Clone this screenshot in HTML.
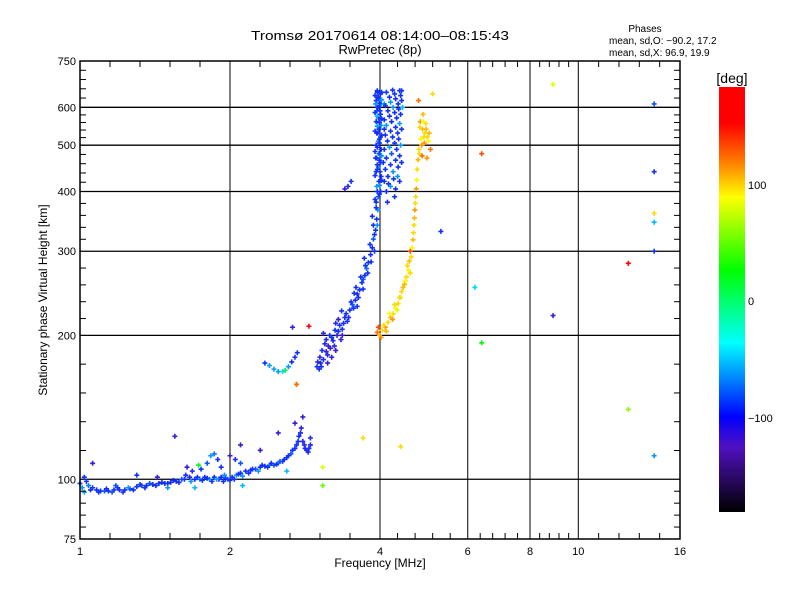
<!DOCTYPE html>
<html><head><meta charset="utf-8"><style>
body{margin:0;background:#fff;}
svg text{font-family:"Liberation Sans",sans-serif;fill:#000;}
</style></head><body>
<svg id="chart" width="800" height="600" xmlns="http://www.w3.org/2000/svg">
<defs>
<linearGradient id="cbar" x1="0" y1="0" x2="0" y2="1">
<stop offset="0" stop-color="#ff0000"/><stop offset="0.085" stop-color="#ff0000"/>
<stop offset="0.179" stop-color="#ff8000"/><stop offset="0.259" stop-color="#ffff00"/>
<stop offset="0.431" stop-color="#00ff00"/><stop offset="0.602" stop-color="#00ffff"/>
<stop offset="0.776" stop-color="#0000ff"/><stop offset="0.847" stop-color="#5010c0"/>
<stop offset="1" stop-color="#000000"/>
</linearGradient>
</defs>
<text x="380" y="40" font-size="13" text-anchor="middle" textLength="258" lengthAdjust="spacingAndGlyphs">Tromsø 20170614 08:14:00–08:15:43</text>
<text x="380" y="54" font-size="13" text-anchor="middle">RwPretec (8p)</text>
<text x="645" y="32" font-size="10" text-anchor="middle">Phases</text>
<text x="609" y="44" font-size="10">mean, sd,O: −90.2, 17.2</text>
<text x="609" y="56" font-size="10">mean, sd,X:  96.9, 19.9</text>
<g id="grid"></g>
<g id="marks"></g>
<rect x="80" y="61" width="600" height="478" fill="none" stroke="#000" stroke-width="1.5"/>
<g id="axes"></g>
<text x="380" y="567" font-size="12" text-anchor="middle">Frequency [MHz]</text>
<text transform="translate(47,300) rotate(-90)" font-size="12" text-anchor="middle">Stationary phase Virtual Height [km]</text>
<rect x="719" y="87" width="26" height="425" fill="url(#cbar)"/>
<text x="732" y="83" font-size="14" text-anchor="middle">[deg]</text>
<text x="748" y="189" font-size="11">100</text>
<text x="748" y="305" font-size="11">0</text>
<text x="748" y="422" font-size="11">−100</text>
</svg>
<script>
const xTicks = [1,2,4,6,8,10,16];
const yTicks = [75,100,200,300,400,500,600,750];
const xGrid = [2,4,6,8,10];
const yGrid = [100,200,300,400,500,600];
const traceE = [[1.00,98,-100],[1.01,96,-70],[1.02,94,-70],[1.03,99,-100],[1.04,97,-80],[1.06,96,-100],[1.08,95,-100],[1.10,94.5,-100],[1.12,94.5,-90],[1.14,94.5,-100],[1.17,95,-100],[1.20,95,-100],[1.23,95,-110],[1.26,95.5,-100],[1.30,96.5,-100],[1.33,97,-90],[1.36,97,-100],[1.40,97.5,-100],[1.44,98,-100],[1.48,98,-100],[1.52,98.5,-110],[1.56,99,-100],[1.60,100,-90],[1.63,102,-100],[1.66,101,-120],[1.70,100,-100],[1.74,100,-80],[1.78,101,-100],[1.82,100,-70],[1.86,101,-100],[1.90,100,-100],[1.94,99,-100],[1.98,100,-90],[2.02,101,-100],[2.06,102,-70],[2.10,103,-100],[2.15,104,-100],[2.20,104.5,-100],[2.25,105,-90],[2.30,106,-100],[2.35,106.5,-100],[2.40,107,-80],[2.45,107,-90],[2.50,108,-70],[2.55,109,-100],[2.60,111,-100],[2.65,113,-90],[2.70,116,-100],[2.74,120,-100],[2.77,125,-110],[2.80,120,-120],[2.83,116,-110],[2.87,114,-100],[2.90,118,-120],[2.90,122,-110]];
const traceE2 = [[1.05,95,-100],[1.09,94,-100],[1.13,95.5,-100],[1.16,94,-90],[1.19,96,-100],[1.22,94,-100],[1.25,96,-70],[1.28,95,-100],[1.32,97.5,-100],[1.35,96,-100],[1.38,98,-90],[1.42,97,-100],[1.46,98.5,-100],[1.50,98,-100],[1.54,99.5,-100],[1.58,98.5,-100],[1.62,100,-100],[1.67,99,-70],[1.72,101,-100],[1.76,99.5,-100],[1.80,100.5,-100],[1.84,99,-100],[1.88,100,-70],[1.92,101,-100],[1.96,100.5,-100],[2.00,99.5,-100],[2.04,100,-100],[2.08,102.5,-100],[2.12,101.5,-70],[2.18,103,-100],[2.22,105,-100],[2.28,104,-70],[2.32,107,-100],[2.38,106,-100],[2.42,108,-100],[2.48,107.5,-100],[2.52,109,-90],[2.57,110,-100],[2.62,112,-100],[2.67,115,-100],[2.72,118,-100],[2.75,123,-100],[2.78,128,-120],[2.82,118,-110],[2.85,115,-120],[2.88,116,-100]];
const traceEextra = [[1.80,108,-90],[1.83,112,-70],[1.86,113,-80],[1.89,110,-100],[1.92,106,-100],[1.75,105,-100],[1.68,104,-120],[1.64,106,-130],[2.05,110,-110],[2.10,108,-90],[2.00,112,-130],[1.06,108,-130],[1.30,102,-100],[1.43,101,-130],[1.55,123,-130],[2.10,118,-130],[2.30,115,-130],[2.50,125,-130],[2.70,131,-130],[2.80,135,-130],[1.73,107,20],[1.18,97,-90],[1.50,96,-70],[1.95,102,-70],[2.12,97,-60],[2.60,104,-60],[1.02,101,-100],[1.70,96,-60]];
const traceFlow = [[2.35,175,-100],[2.40,173,-70],[2.45,170,-70],[2.50,168,-70],[2.55,168,-50],[2.58,169,0],[2.62,172,-70],[2.66,176,-100],[2.70,180,-100],[2.73,184,-100],[2.67,208,-120],[2.88,209,160],[2.72,158,140]];
const traceO = [[2.99,172,-100],[3.02,170,-110],[3.05,172,-100],[3.03,180,-120],[3.06,186,-100],[3.10,192,-110],[3.12,185,-120],[3.17,200,-100],[3.15,190,-130],[3.22,195,-110],[3.25,205,-100],[3.28,200,-120],[3.32,210,-100],[3.30,216,-130],[3.36,206,-110],[3.40,218,-100],[3.44,214,-100],[3.48,226,-100],[3.52,232,-90],[3.57,237,-100],[3.60,244,-110],[3.64,249,-100],[3.68,258,-100],[3.73,267,-100],[3.76,276,-80],[3.79,284,-100],[3.83,295,-100],[3.86,305,-100],[3.88,318,-90],[3.92,332,-100],[3.94,350,-100],[3.96,366,-70],[3.08,202,-120],[3.20,180,-130],[3.35,225,-100],[3.55,245,-100],[3.70,262,-90],[3.90,300,-100],[3.40,405,-130],[3.45,410,-110],[3.50,420,-100]];
const traceO2 = [[3.00,176,-110],[3.04,175,-120],[3.08,178,-100],[3.12,196,-120],[3.14,182,-110],[3.18,188,-130],[3.20,198,-100],[3.24,190,-120],[3.26,212,-110],[3.30,204,-100],[3.34,196,-120],[3.38,212,-100],[3.42,222,-100],[3.46,218,-110],[3.50,235,-100],[3.54,228,-100],[3.58,252,-100],[3.62,240,-100],[3.66,265,-100],[3.70,250,-100],[3.74,280,-100],[3.78,270,-100],[3.82,310,-100],[3.84,285,-100],[3.88,340,-100],[3.90,325,-100],[3.93,370,-100],[3.95,340,-70],[3.14,175,-130],[3.26,186,-130],[3.36,200,-130],[3.60,230,-100],[3.72,290,-100],[3.86,355,-100]];
const colA = [[3.93,380,-100],[3.97,390,-90],[4.01,400,-100],[3.94,410,-70],[3.98,420,-100],[4.02,430,-100],[3.93,440,-100],[3.97,450,-70],[4.01,460,-100],[3.94,470,-100],[3.98,480,-90],[4.02,490,-100],[3.93,500,-100],[3.97,510,-70],[4.01,520,-100],[3.94,530,-100],[3.98,540,-100],[4.02,550,-70],[3.93,560,-100],[3.97,570,-100],[4.01,580,-100],[3.94,590,-90],[3.98,600,-100],[4.02,610,-70],[3.93,620,-100],[3.97,630,-100],[4.01,640,-100],[3.95,650,-100],[3.99,395,-100],[3.95,455,-100],[3.99,505,-100],[3.95,575,-60],[3.99,625,-100]];
const colA2 = [[3.91,385,-100],[3.95,400,-100],[3.99,412,-70],[4.03,422,-100],[3.91,432,-100],[3.95,445,-100],[3.99,465,-100],[4.03,475,-70],[3.91,485,-100],[3.95,495,-100],[3.99,515,-100],[4.03,525,-100],[3.91,535,-100],[3.95,548,-70],[3.99,558,-100],[4.03,568,-100],[3.91,585,-100],[3.95,600,-100],[3.99,612,-100],[4.03,622,-70],[3.91,635,-100],[3.95,645,-100],[4.03,645,-100],[3.92,470,-100],[3.96,530,-100],[4.00,590,-100],[3.92,610,-70],[4.00,440,-100]];
const colB = [[4.12,400,-100],[4.20,410,-70],[4.30,405,-100],[4.38,420,-100],[4.15,430,-100],[4.25,440,-70],[4.35,450,-100],[4.42,460,-100],[4.12,470,-100],[4.22,480,-90],[4.32,490,-100],[4.40,500,-70],[4.14,510,-100],[4.24,520,-100],[4.34,530,-100],[4.42,540,-100],[4.12,550,-70],[4.22,560,-100],[4.32,570,-100],[4.40,580,-100],[4.15,590,-100],[4.25,600,-70],[4.35,610,-100],[4.42,620,-100],[4.18,630,-100],[4.28,640,-100],[4.38,650,-100],[4.06,460,-100],[4.08,540,-100],[4.08,610,-70]];
const colB2 = [[4.08,420,-100],[4.16,415,-100],[4.26,425,-100],[4.34,430,-70],[4.10,445,-100],[4.20,455,-100],[4.30,465,-100],[4.38,475,-100],[4.08,490,-100],[4.18,495,-70],[4.28,505,-100],[4.36,515,-100],[4.10,525,-100],[4.20,535,-100],[4.30,545,-100],[4.38,555,-70],[4.08,565,-100],[4.18,575,-100],[4.28,585,-100],[4.36,595,-100],[4.10,605,-100],[4.20,615,-70],[4.30,625,-100],[4.40,635,-100],[4.12,645,-100],[4.24,652,-100],[4.42,650,-100],[4.44,600,-60],[4.14,380,-100],[4.28,390,-100]];
const traceX = [[3.95,203,130],[3.99,200,110],[4.04,205,100],[4.10,208,120],[4.15,213,100],[4.20,218,110],[4.25,222,100],[4.30,228,90],[4.35,233,100],[4.42,247,100],[4.48,256,110],[4.52,265,100],[4.56,274,90],[4.62,292,100],[4.66,317,110],[4.68,340,100],[4.70,366,120],[4.72,390,100],[4.74,423,90],[4.77,466,110],[4.80,480,100],[4.85,500,120],[4.90,520,100],[4.95,540,110],[5.00,510,90],[5.05,490,130],[4.82,560,120],[4.88,580,110],[4.78,620,130],[4.92,530,100],[4.97,470,120],[5.10,640,100],[4.40,240,80],[4.60,300,140]];
const traceX2 = [[3.97,208,140],[4.02,198,120],[4.07,210,100],[4.12,204,110],[4.18,222,90],[4.24,216,120],[4.28,232,100],[4.33,226,80],[4.38,240,100],[4.45,252,110],[4.50,260,90],[4.54,280,100],[4.58,286,110],[4.60,270,100],[4.64,305,90],[4.67,328,100],[4.69,352,110],[4.71,378,100],[4.73,405,120],[4.75,445,100],[4.79,490,100],[4.83,515,90],[4.87,540,110],[4.91,505,120],[4.94,555,100],[4.98,520,100],[5.02,530,110],[4.86,475,130],[4.81,545,100],[4.89,560,90]];
const outliers = [[14.2,610,-90],[14.2,440,-100],[14.2,360,100],[14.2,345,-60],[14.2,300,-100],[12.6,283,160],[12.6,140,60],[14.2,112,-70],[8.9,670,80],[8.9,220,-130],[6.4,480,140],[6.4,193,20],[6.2,252,-50],[5.3,330,-100],[4.4,117,100],[3.7,122,100],[3.07,106,80],[3.07,97,50],[2.72,158,130]];
const traces = [traceE, traceE2, traceEextra, traceFlow, traceO, traceO2, colA, colA2, colB, colB2, traceX, traceX2, outliers];

const L=80,R=680,T=61,B=539;
function xs(f){return L+150*Math.log2(f);}
function ys(h){return B-478*Math.log10(h/75);}
const stops=[[-180,[0,0,0]],[-145,[80,16,192]],[-100,[16,48,255]],[-50,[0,220,255]],[25,[0,255,0]],[88,[255,255,0]],[118,[255,160,0]],[160,[255,0,0]],[180,[255,0,0]]];
function col(p){for(let i=0;i<stops.length-1;i++){const a=stops[i],b=stops[i+1];if(p<=b[0]){const t=Math.max(0,(p-a[0])/(b[0]-a[0]));const c=a[1].map((v,k)=>Math.round(v+(b[1][k]-v)*t));return 'rgb('+c.join(',')+')';}}return 'rgb(255,0,0)';}
const NS='http://www.w3.org/2000/svg';
function mk(tag,attrs,parent){const e=document.createElementNS(NS,tag);for(const k in attrs)e.setAttribute(k,attrs[k]);parent.appendChild(e);return e;}
const grid=document.getElementById('grid'),axes=document.getElementById('axes'),marks=document.getElementById('marks');
xGrid.forEach(v=>{const x=xs(v);const l=mk('line',{x1:x,x2:x,y1:T,y2:B,stroke:'#000','stroke-width':1},grid);

});
yGrid.forEach(v=>{const y=ys(v);const l=mk('line',{x1:L,x2:R,y1:y,y2:y,stroke:'#000','stroke-width':1.3},grid);

});
for(let i=0;i<xTicks.length-1;i++){const a=xs(xTicks[i]),b=xs(xTicks[i+1]);for(let j=1;j<5;j++){const x=a+(b-a)*j/5;
const t1=mk('line',{x1:x,x2:x,y1:B,y2:B-6,stroke:'#000'},axes);
const t2=mk('line',{x1:x,x2:x,y1:T,y2:T+6,stroke:'#000'},axes);}}
for(let i=0;i<yTicks.length-1;i++){const a=ys(yTicks[i]),b=ys(yTicks[i+1]);for(let j=1;j<5;j++){const y=a+(b-a)*j/5;
const t1=mk('line',{x1:L,x2:L+6,y1:y,y2:y,stroke:'#000'},axes);
const t2=mk('line',{x1:R,x2:R-6,y1:y,y2:y,stroke:'#000'},axes);}}
xTicks.forEach(v=>{const t=mk('text',{x:xs(v),y:555,'font-size':11,'text-anchor':'middle'},axes);t.textContent=v;

});
yTicks.forEach(v=>{const t=mk('text',{x:76,y:ys(v)+4,'font-size':11,'text-anchor':'end'},axes);t.textContent=v;

});
traces.forEach(tr=>tr.forEach(d=>{const x=xs(d[0]),y=ys(d[1]);
const p=mk('path',{d:'M'+(x-2.5)+' '+y+'H'+(x+2.5)+'M'+x+' '+(y-2.5)+'V'+(y+2.5),stroke:col(d[2]),'stroke-width':1.6},marks);

}));
</script>
</body></html>
